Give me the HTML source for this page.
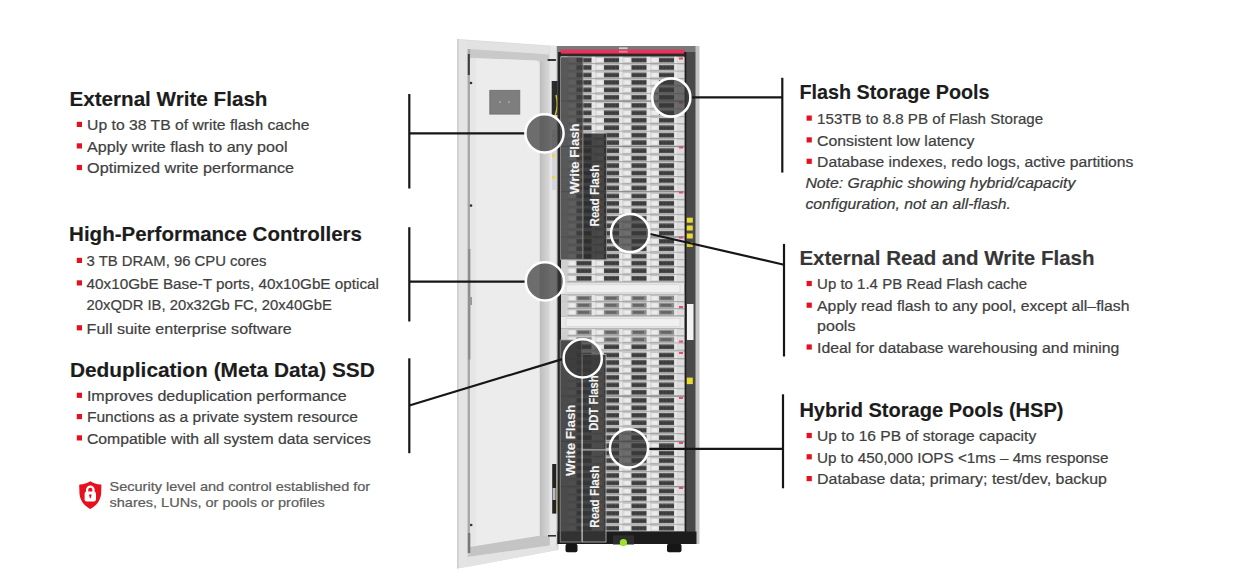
<!DOCTYPE html><html><head><meta charset="utf-8"><style>html,body{margin:0;padding:0;background:#fff;overflow:hidden;}svg{display:block;}</style></head><body>
<svg width="1249" height="580" viewBox="0 0 1249 580">
<rect width="1249" height="580" fill="#ffffff"/>
<defs><g id="rn"><rect x="561.00" y="0.00" width="123.30" height="7.50" fill="#c2c2c2"/><rect x="561.00" y="6.60" width="123.30" height="0.90" fill="#a2a2a2"/><rect x="561.00" y="0.00" width="6.50" height="7.50" fill="#cfcfcf"/><rect x="567.50" y="1.30" width="9.00" height="4.60" fill="#dcdcdc"/><rect x="569.50" y="1.70" width="5.50" height="3.80" fill="#ececec"/><rect x="576.50" y="1.30" width="15.20" height="4.60" fill="#4a4a4a"/><rect x="577.40" y="2.30" width="2.80" height="2.60" fill="#3a3a3a"/><rect x="581.00" y="2.30" width="2.80" height="2.60" fill="#3a3a3a"/><rect x="584.60" y="2.30" width="2.80" height="2.60" fill="#3a3a3a"/><rect x="588.20" y="2.30" width="2.80" height="2.60" fill="#3a3a3a"/><rect x="576.90" y="1.60" width="14.40" height="0.60" fill="#606060"/><rect x="591.70" y="0.30" width="3.30" height="6.30" fill="#e6e6e6"/><rect x="595.00" y="1.30" width="9.00" height="4.60" fill="#dcdcdc"/><rect x="597.00" y="1.70" width="5.50" height="3.80" fill="#ececec"/><rect x="604.00" y="1.30" width="15.20" height="4.60" fill="#4a4a4a"/><rect x="604.90" y="2.30" width="2.80" height="2.60" fill="#3a3a3a"/><rect x="608.50" y="2.30" width="2.80" height="2.60" fill="#3a3a3a"/><rect x="612.10" y="2.30" width="2.80" height="2.60" fill="#3a3a3a"/><rect x="615.70" y="2.30" width="2.80" height="2.60" fill="#3a3a3a"/><rect x="604.40" y="1.60" width="14.40" height="0.60" fill="#606060"/><rect x="619.20" y="0.30" width="3.30" height="6.30" fill="#e6e6e6"/><rect x="622.50" y="1.30" width="9.00" height="4.60" fill="#dcdcdc"/><rect x="624.50" y="1.70" width="5.50" height="3.80" fill="#ececec"/><rect x="631.50" y="1.30" width="15.20" height="4.60" fill="#4a4a4a"/><rect x="632.40" y="2.30" width="2.80" height="2.60" fill="#3a3a3a"/><rect x="636.00" y="2.30" width="2.80" height="2.60" fill="#3a3a3a"/><rect x="639.60" y="2.30" width="2.80" height="2.60" fill="#3a3a3a"/><rect x="643.20" y="2.30" width="2.80" height="2.60" fill="#3a3a3a"/><rect x="631.90" y="1.60" width="14.40" height="0.60" fill="#606060"/><rect x="646.70" y="0.30" width="3.30" height="6.30" fill="#e6e6e6"/><rect x="650.00" y="1.30" width="9.00" height="4.60" fill="#dcdcdc"/><rect x="652.00" y="1.70" width="5.50" height="3.80" fill="#ececec"/><rect x="659.00" y="1.30" width="15.20" height="4.60" fill="#4a4a4a"/><rect x="659.90" y="2.30" width="2.80" height="2.60" fill="#3a3a3a"/><rect x="663.50" y="2.30" width="2.80" height="2.60" fill="#3a3a3a"/><rect x="667.10" y="2.30" width="2.80" height="2.60" fill="#3a3a3a"/><rect x="670.70" y="2.30" width="2.80" height="2.60" fill="#3a3a3a"/><rect x="659.40" y="1.60" width="14.40" height="0.60" fill="#606060"/><rect x="674.20" y="0.30" width="3.30" height="6.30" fill="#e6e6e6"/><rect x="677.50" y="0.80" width="6.70" height="5.70" fill="#dedede"/></g><g id="rb"><rect x="561.00" y="0.00" width="123.30" height="7.50" fill="#c2c2c2"/><rect x="561.00" y="6.60" width="123.30" height="0.90" fill="#a2a2a2"/><rect x="561.00" y="0.00" width="6.50" height="7.50" fill="#cfcfcf"/><rect x="567.50" y="1.30" width="9.00" height="4.60" fill="#dcdcdc"/><rect x="569.50" y="1.70" width="5.50" height="3.80" fill="#ececec"/><rect x="576.50" y="1.30" width="15.20" height="4.60" fill="#8a8a8a"/><rect x="578.00" y="2.20" width="11.00" height="2.80" fill="#666666"/><rect x="591.70" y="0.30" width="3.30" height="6.30" fill="#e6e6e6"/><rect x="595.00" y="1.30" width="9.00" height="4.60" fill="#dcdcdc"/><rect x="597.00" y="1.70" width="5.50" height="3.80" fill="#ececec"/><rect x="604.00" y="1.30" width="15.20" height="4.60" fill="#8a8a8a"/><rect x="605.50" y="2.20" width="11.00" height="2.80" fill="#666666"/><rect x="619.20" y="0.30" width="3.30" height="6.30" fill="#e6e6e6"/><rect x="622.50" y="1.30" width="9.00" height="4.60" fill="#dcdcdc"/><rect x="624.50" y="1.70" width="5.50" height="3.80" fill="#ececec"/><rect x="631.50" y="1.30" width="15.20" height="4.60" fill="#8a8a8a"/><rect x="633.00" y="2.20" width="11.00" height="2.80" fill="#666666"/><rect x="646.70" y="0.30" width="3.30" height="6.30" fill="#e6e6e6"/><rect x="650.00" y="1.30" width="9.00" height="4.60" fill="#dcdcdc"/><rect x="652.00" y="1.70" width="5.50" height="3.80" fill="#ececec"/><rect x="659.00" y="1.30" width="15.20" height="4.60" fill="#8a8a8a"/><rect x="660.50" y="2.20" width="11.00" height="2.80" fill="#666666"/><rect x="674.20" y="0.30" width="3.30" height="6.30" fill="#e6e6e6"/><rect x="677.50" y="0.80" width="6.70" height="5.70" fill="#dedede"/></g><linearGradient id="gr1" x1="0" x2="1" y1="0" y2="0"><stop offset="0" stop-color="#bdbdbd"/><stop offset="1" stop-color="#dadada"/></linearGradient><filter id="bl" x="-5%" y="-5%" width="110%" height="110%"><feGaussianBlur stdDeviation="0.45"/></filter></defs>
<g filter="url(#bl)"><polygon points="457,39 557.5,46 557.5,550 457,568.5" fill="#dadada"/><polygon points="458.5,40 467.5,40.6 467.5,567 458.5,568" fill="#e4e4e4"/><polygon points="457,39 458.6,39.1 458.6,568.2 457,568.5" fill="#cfcfcf"/><polygon points="467.5,40.6 549,46 549,54.5 467.5,49.2" fill="#e2e2e2"/><polygon points="469,49 549,54.5 549,61 469,58" fill="#c9c9c9"/><polygon points="467.6,49 470.2,49.2 470.2,553 467.6,553.5" fill="#a8a8a8"/><polygon points="470.2,58 536,60.4 539.8,62.5 539.8,535.7 470.2,547.1" fill="#ececec"/><polygon points="470.2,58 476,58.2 476,546.2 470.2,547.1" fill="#e6e6e6"/><polygon points="539.8,60.4 549.8,61 549.8,545.5 539.8,545.5" fill="url(#gr1)"/><polygon points="549.8,46 557.5,46 557.5,550 549.8,550.4" fill="#e6e6e6"/><polygon points="556,46 558.5,46 558.5,550 556,550" fill="#cfcfcf"/><polygon points="470.2,547.1 539.8,535.7 549.8,535.7 549.8,545.5 467.6,557" fill="#c4c4c4"/><polygon points="467.6,557 549.8,545.5 557.5,545.5 557.5,550 467.5,567" fill="#e3e3e3"/><rect x="467.8" y="54" width="2" height="21" fill="#3a3a3a"/><circle cx="471" cy="83" r="1.3" fill="#333"/><circle cx="471" cy="205.6" r="1.3" fill="#333"/><circle cx="471.2" cy="525" r="1.3" fill="#333"/><rect x="467.9" y="533" width="2.4" height="20" fill="#777"/><rect x="489.8" y="90.3" width="30" height="23.8" fill="#7e7e7e" stroke="#6c6c6c" stroke-width="0.8"/><circle cx="500" cy="102" r="1" fill="#aaa"/><circle cx="509" cy="102" r="1" fill="#aaa"/><rect x="547.6" y="59" width="8.3" height="2" fill="#333"/><rect x="548" y="535" width="8" height="1.6" fill="#333"/><rect x="468.2" y="249" width="2.2" height="110.5" fill="#8c8c8c"/><rect x="469.5" y="297" width="2.5" height="8" fill="#9a9a9a"/><rect x="551.7" y="81" width="6" height="34" fill="#2a2a2a"/><path d="M556 95 Q559 105 555 116" stroke="#d8c23a" stroke-width="1.4" fill="none"/><rect x="552" y="130" width="4" height="60" fill="#d5d5de"/><circle cx="553.5" cy="155.7" r="1.7" fill="#e8d840"/><circle cx="553.5" cy="177.2" r="1.7" fill="#e8d840"/><circle cx="553.5" cy="136" r="1.2" fill="#d8d060"/><rect x="552.2" y="464" width="4.1" height="49.6" fill="#222"/><rect x="552.6" y="488" width="3" height="12" fill="#b7b7d0"/><path d="M557 484 L557 512" stroke="#caa640" stroke-width="0.8"/><rect x="557.50" y="46.00" width="139.00" height="498.00" fill="#2c2c2c" /><rect x="558.00" y="46.00" width="138.00" height="6.00" fill="#7a7a7a" /><rect x="560.40" y="49.70" width="124.20" height="3.90" fill="#e8325a" /><rect x="619.00" y="47.30" width="8.60" height="1.80" fill="#c8d0c8" /><rect x="619.00" y="50.80" width="8.60" height="1.80" fill="#f27a9a" /><rect x="684.30" y="52.00" width="12.00" height="480.00" fill="#4a4a4a" /><rect x="684.30" y="52.00" width="2.00" height="480.00" fill="#1a1a1a" /><rect x="695.50" y="46.00" width="4.00" height="498.00" fill="#c4c4c4" /><rect x="686.80" y="217.70" width="6.00" height="5.00" fill="#e9d932" /><rect x="686.80" y="225.50" width="6.00" height="5.00" fill="#e9d932" /><rect x="686.80" y="233.50" width="6.00" height="5.00" fill="#e9d932" /><rect x="686.80" y="242.00" width="6.00" height="5.00" fill="#d8c830" /><rect x="687.00" y="304.00" width="6.50" height="36.00" fill="#f2f2f2" /><rect x="686.80" y="377.60" width="6.00" height="6.50" fill="#e9d932" /><rect x="561.00" y="57.00" width="123.30" height="474.50" fill="#cfcfcf" /><use href="#rn" transform="translate(0,56.50) scale(1,0.9933)"/><use href="#rn" transform="translate(0,63.95) scale(1,0.9933)"/><use href="#rn" transform="translate(0,71.40) scale(1,0.9933)"/><use href="#rn" transform="translate(0,78.85) scale(1,0.9933)"/><use href="#rn" transform="translate(0,86.30) scale(1,0.9933)"/><use href="#rn" transform="translate(0,93.75) scale(1,0.9933)"/><rect x="561.00" y="100.60" width="123.30" height="1.30" fill="#8a8a8a" /><use href="#rn" transform="translate(0,101.80) scale(1,0.9933)"/><use href="#rn" transform="translate(0,109.25) scale(1,0.9933)"/><use href="#rn" transform="translate(0,116.70) scale(1,0.9933)"/><use href="#rn" transform="translate(0,124.15) scale(1,0.9933)"/><use href="#rn" transform="translate(0,131.60) scale(1,0.9933)"/><use href="#rn" transform="translate(0,139.05) scale(1,0.9933)"/><rect x="561.00" y="145.90" width="123.30" height="1.30" fill="#8a8a8a" /><use href="#rn" transform="translate(0,147.10) scale(1,0.9933)"/><use href="#rn" transform="translate(0,154.55) scale(1,0.9933)"/><use href="#rn" transform="translate(0,162.00) scale(1,0.9933)"/><use href="#rn" transform="translate(0,169.45) scale(1,0.9933)"/><use href="#rn" transform="translate(0,176.90) scale(1,0.9933)"/><use href="#rn" transform="translate(0,184.35) scale(1,0.9933)"/><rect x="561.00" y="191.20" width="123.30" height="1.30" fill="#8a8a8a" /><use href="#rn" transform="translate(0,192.40) scale(1,0.9933)"/><use href="#rn" transform="translate(0,199.85) scale(1,0.9933)"/><use href="#rn" transform="translate(0,207.30) scale(1,0.9933)"/><use href="#rn" transform="translate(0,214.75) scale(1,0.9933)"/><use href="#rn" transform="translate(0,222.20) scale(1,0.9933)"/><use href="#rn" transform="translate(0,229.65) scale(1,0.9933)"/><rect x="561.00" y="236.50" width="123.30" height="1.30" fill="#8a8a8a" /><use href="#rn" transform="translate(0,237.70) scale(1,0.9933)"/><use href="#rn" transform="translate(0,245.15) scale(1,0.9933)"/><use href="#rn" transform="translate(0,252.60) scale(1,0.9933)"/><use href="#rn" transform="translate(0,259.50) scale(1,1.0133)"/><use href="#rn" transform="translate(0,267.10) scale(1,1.0133)"/><use href="#rn" transform="translate(0,274.70) scale(1,1.0133)"/><rect x="561.00" y="282.30" width="123.30" height="12.50" fill="#e9e9e9" /><rect x="561.00" y="282.30" width="123.30" height="0.80" fill="#b8b8b8" /><rect x="561.00" y="293.80" width="123.30" height="1.00" fill="#b0b0b0" /><rect x="566.00" y="284.80" width="114.00" height="7.50" fill="#f0f0f0" stroke="#d0d0d0" stroke-width="0.6"/><use href="#rb" transform="translate(0,294.80) scale(1,0.9467)"/><use href="#rb" transform="translate(0,301.90) scale(1,0.9467)"/><use href="#rb" transform="translate(0,309.00) scale(1,0.9467)"/><rect x="561.00" y="316.10" width="123.30" height="12.80" fill="#e9e9e9" /><rect x="561.00" y="316.10" width="123.30" height="0.80" fill="#b8b8b8" /><rect x="561.00" y="327.90" width="123.30" height="1.00" fill="#b0b0b0" /><rect x="566.00" y="318.60" width="114.00" height="7.80" fill="#f0f0f0" stroke="#d0d0d0" stroke-width="0.6"/><use href="#rb" transform="translate(0,328.90) scale(1,0.9600)"/><use href="#rb" transform="translate(0,336.10) scale(1,0.9600)"/><use href="#rn" transform="translate(0,343.30) scale(1,0.9600)"/><use href="#rn" transform="translate(0,351.50) scale(1,0.9933)"/><use href="#rn" transform="translate(0,358.95) scale(1,0.9933)"/><use href="#rn" transform="translate(0,366.40) scale(1,0.9933)"/><use href="#rn" transform="translate(0,373.85) scale(1,0.9933)"/><use href="#rn" transform="translate(0,381.30) scale(1,0.9933)"/><use href="#rn" transform="translate(0,388.75) scale(1,0.9933)"/><rect x="561.00" y="395.60" width="123.30" height="1.30" fill="#8a8a8a" /><use href="#rn" transform="translate(0,396.80) scale(1,0.9933)"/><use href="#rn" transform="translate(0,404.25) scale(1,0.9933)"/><use href="#rn" transform="translate(0,411.70) scale(1,0.9933)"/><use href="#rn" transform="translate(0,419.15) scale(1,0.9933)"/><use href="#rn" transform="translate(0,426.60) scale(1,0.9933)"/><use href="#rn" transform="translate(0,434.05) scale(1,0.9933)"/><rect x="561.00" y="440.90" width="123.30" height="1.30" fill="#8a8a8a" /><use href="#rn" transform="translate(0,442.10) scale(1,0.9933)"/><use href="#rn" transform="translate(0,449.55) scale(1,0.9933)"/><use href="#rn" transform="translate(0,457.00) scale(1,0.9933)"/><use href="#rn" transform="translate(0,464.45) scale(1,0.9933)"/><use href="#rn" transform="translate(0,471.90) scale(1,0.9933)"/><use href="#rn" transform="translate(0,479.35) scale(1,0.9933)"/><rect x="561.00" y="486.20" width="123.30" height="1.30" fill="#8a8a8a" /><use href="#rn" transform="translate(0,487.40) scale(1,0.9933)"/><use href="#rn" transform="translate(0,494.85) scale(1,0.9933)"/><use href="#rn" transform="translate(0,502.30) scale(1,0.9933)"/><use href="#rn" transform="translate(0,509.75) scale(1,0.9933)"/><use href="#rn" transform="translate(0,517.20) scale(1,0.9933)"/><use href="#rn" transform="translate(0,524.65) scale(1,0.9933)"/><rect x="561.00" y="531.50" width="123.30" height="1.30" fill="#8a8a8a" /><rect x="679.00" y="57.50" width="4.00" height="2.00" fill="#e0506a" /><rect x="679.00" y="101.50" width="4.00" height="2.00" fill="#e0506a" /><rect x="679.00" y="146.50" width="4.00" height="2.00" fill="#e0506a" /><rect x="679.00" y="191.50" width="4.00" height="2.00" fill="#e0506a" /><rect x="679.00" y="236.50" width="4.00" height="2.00" fill="#e0506a" /><rect x="679.00" y="306.00" width="4.00" height="2.00" fill="#e0506a" /><rect x="679.00" y="340.50" width="4.00" height="2.00" fill="#e0506a" /><rect x="679.00" y="352.00" width="4.00" height="2.00" fill="#e0506a" /><rect x="679.00" y="397.00" width="4.00" height="2.00" fill="#e0506a" /><rect x="679.00" y="442.00" width="4.00" height="2.00" fill="#e0506a" /><rect x="679.00" y="487.00" width="4.00" height="2.00" fill="#e0506a" /><rect x="558.50" y="52.00" width="2.20" height="480.00" fill="#222" /><rect x="557.50" y="531.50" width="139.00" height="12.50" fill="#1e1e1e" /><rect x="613.00" y="535.50" width="21.00" height="9.00" fill="#2e2e2e" /><circle cx="623.4" cy="542.6" r="3.6" fill="#9be22a"/><rect x="565.50" y="543.80" width="12.00" height="8.40" fill="#151515" rx="2"/><rect x="667.00" y="543.80" width="14.50" height="8.40" fill="#151515" rx="2"/><rect x="560.6" y="57" width="22.4" height="202.5" fill="#3e3e3e" fill-opacity="0.82" stroke="#9a9a9a" stroke-width="0.8"/><rect x="583" y="133.5" width="23.5" height="126" fill="#2c2c2c" fill-opacity="0.86" stroke="#8a8a8a" stroke-width="0.8"/><rect x="560.2" y="340" width="21.2" height="202" fill="#363636" fill-opacity="0.86" stroke="#9a9a9a" stroke-width="0.8"/><rect x="582.5" y="354.6" width="23.5" height="95.4" fill="#333333" fill-opacity="0.86" stroke="#bdbdbd" stroke-width="0.8"/><rect x="582.5" y="450" width="23.5" height="92" fill="#333333" fill-opacity="0.86" stroke="#bdbdbd" stroke-width="0.8"/></g>
<g><text transform="translate(578.5,194.0) rotate(-90)" x="0" y="0" font-family='"Liberation Sans", sans-serif' font-size="13.2" font-weight="bold" fill="#f4f4f4" stroke="#f4f4f4" stroke-width="0.1" textLength="70.6" lengthAdjust="spacingAndGlyphs">Write Flash</text><text transform="translate(598.7,226.4) rotate(-90)" x="0" y="0" font-family='"Liberation Sans", sans-serif' font-size="13.2" font-weight="bold" fill="#f4f4f4" stroke="#f4f4f4" stroke-width="0.1" textLength="61.6" lengthAdjust="spacingAndGlyphs">Read Flash</text><text transform="translate(574.6,476.0) rotate(-90)" x="0" y="0" font-family='"Liberation Sans", sans-serif' font-size="13.2" font-weight="bold" fill="#f4f4f4" stroke="#f4f4f4" stroke-width="0.1" textLength="71.5" lengthAdjust="spacingAndGlyphs">Write Flash</text><text transform="translate(598.4,430.8) rotate(-90)" x="0" y="0" font-family='"Liberation Sans", sans-serif' font-size="13.2" font-weight="bold" fill="#f4f4f4" stroke="#f4f4f4" stroke-width="0.1" textLength="55.5" lengthAdjust="spacingAndGlyphs">DDT Flash</text><text transform="translate(598.9,527.8) rotate(-90)" x="0" y="0" font-family='"Liberation Sans", sans-serif' font-size="13.2" font-weight="bold" fill="#f4f4f4" stroke="#f4f4f4" stroke-width="0.1" textLength="62.3" lengthAdjust="spacingAndGlyphs">Read Flash</text></g>
<g><path d="M409.3,94 L409.3,188.5" stroke="#161616" stroke-width="2.2" fill="none"/><path d="M409.3,133.4 L526,133.4" stroke="#161616" stroke-width="2.2" fill="none"/><path d="M409.3,227.2 L409.3,321.5" stroke="#161616" stroke-width="2.2" fill="none"/><path d="M409.3,281.6 L526,281.6" stroke="#161616" stroke-width="2.2" fill="none"/><path d="M409.3,358.3 L409.3,453.2" stroke="#161616" stroke-width="2.2" fill="none"/><path d="M409.3,405.5 L564,358.6" stroke="#161616" stroke-width="2.2" fill="none"/><path d="M782.3,77.8 L782.3,172.6" stroke="#161616" stroke-width="2.2" fill="none"/><path d="M689,97.3 L782.3,97.3" stroke="#161616" stroke-width="2.2" fill="none"/><path d="M784,243.9 L784,356.5" stroke="#161616" stroke-width="2.2" fill="none"/><path d="M648,233.5 L784,264.7" stroke="#161616" stroke-width="2.2" fill="none"/><path d="M783,394.3 L783,488.3" stroke="#161616" stroke-width="2.2" fill="none"/><path d="M647,448.8 L783,448.8" stroke="#161616" stroke-width="2.2" fill="none"/></g>
<g><circle cx="544.5" cy="133.3" r="19.1" fill="#383838" fill-opacity="0.70" stroke="#ffffff" stroke-width="2.5"/><circle cx="544.9" cy="281.4" r="19.1" fill="#383838" fill-opacity="0.70" stroke="#ffffff" stroke-width="2.5"/><circle cx="582.7" cy="358.4" r="19.1" fill="#383838" fill-opacity="0.70" stroke="#ffffff" stroke-width="2.5"/><circle cx="671.3" cy="97.5" r="19.1" fill="#383838" fill-opacity="0.70" stroke="#ffffff" stroke-width="2.5"/><circle cx="630.2" cy="233.0" r="19.1" fill="#383838" fill-opacity="0.70" stroke="#ffffff" stroke-width="2.5"/><circle cx="629.0" cy="448.4" r="19.1" fill="#383838" fill-opacity="0.70" stroke="#ffffff" stroke-width="2.5"/></g>
<g><path d="M90.3,481.2 C87.5,483 83.5,484.3 79.8,484.6 Q79.2,484.7 79.2,485.4 L79.5,494 C80.2,501 84.5,506 90.3,508.9 C96.1,506 100.4,501 101.1,494 L101.4,485.4 Q101.4,484.7 100.8,484.6 C97.1,484.3 93.1,483 90.3,481.2 Z" fill="#e8101e"/><rect x="84.6" y="491.6" width="11.4" height="9.8" rx="2.2" fill="#ffffff"/><path d="M87.1,492.4 L87.1,489.8 A3.2,3.2 0 0 1 93.5,489.8 L93.5,492.4" stroke="#ffffff" stroke-width="2.3" fill="none"/><circle cx="90.3" cy="495.4" r="1.2" fill="#e8101e"/><rect x="89.7" y="495.6" width="1.2" height="2.6" fill="#e8101e"/></g>
<rect x="76.8" y="121.8" width="5.2" height="5.2" fill="#e5101d"/>
<rect x="76.8" y="143.29999999999998" width="5.2" height="5.2" fill="#e5101d"/>
<rect x="76.8" y="164.89999999999998" width="5.2" height="5.2" fill="#e5101d"/>
<rect x="76.8" y="257.8" width="5.2" height="5.2" fill="#e5101d"/>
<rect x="76.8" y="280.3" width="5.2" height="5.2" fill="#e5101d"/>
<rect x="76.8" y="325.2" width="5.2" height="5.2" fill="#e5101d"/>
<rect x="76.8" y="392.7" width="5.2" height="5.2" fill="#e5101d"/>
<rect x="76.8" y="414.0" width="5.2" height="5.2" fill="#e5101d"/>
<rect x="76.8" y="435.3" width="5.2" height="5.2" fill="#e5101d"/>
<rect x="806.6" y="115.5" width="5.2" height="5.2" fill="#e5101d"/>
<rect x="806.6" y="137.29999999999998" width="5.2" height="5.2" fill="#e5101d"/>
<rect x="806.6" y="158.7" width="5.2" height="5.2" fill="#e5101d"/>
<rect x="806.6" y="280.9" width="5.2" height="5.2" fill="#e5101d"/>
<rect x="806.6" y="302.59999999999997" width="5.2" height="5.2" fill="#e5101d"/>
<rect x="806.6" y="344.4" width="5.2" height="5.2" fill="#e5101d"/>
<rect x="806.6" y="432.9" width="5.2" height="5.2" fill="#e5101d"/>
<rect x="806.6" y="454.2" width="5.2" height="5.2" fill="#e5101d"/>
<rect x="806.6" y="476.0" width="5.2" height="5.2" fill="#e5101d"/>
<text x="69.4" y="105.6" font-family='"Liberation Sans", sans-serif' font-size="21.0" font-weight="bold" font-style="normal" fill="#1c1c1c" stroke="#1c1c1c" stroke-width="0.15" textLength="198.1" lengthAdjust="spacingAndGlyphs">External Write Flash</text>
<text x="87.1" y="130.1" font-family='"Liberation Sans", sans-serif' font-size="15.2" font-weight="normal" font-style="normal" fill="#3f3f3f" stroke="#3f3f3f" stroke-width="0.22" textLength="222.3" lengthAdjust="spacingAndGlyphs">Up to 38 TB of write flash cache</text>
<text x="87.1" y="151.6" font-family='"Liberation Sans", sans-serif' font-size="15.2" font-weight="normal" font-style="normal" fill="#3f3f3f" stroke="#3f3f3f" stroke-width="0.22" textLength="200.4" lengthAdjust="spacingAndGlyphs">Apply write flash to any pool</text>
<text x="87.1" y="173.2" font-family='"Liberation Sans", sans-serif' font-size="15.2" font-weight="normal" font-style="normal" fill="#3f3f3f" stroke="#3f3f3f" stroke-width="0.22" textLength="206.9" lengthAdjust="spacingAndGlyphs">Optimized write performance</text>
<text x="69.1" y="241.1" font-family='"Liberation Sans", sans-serif' font-size="21.0" font-weight="bold" font-style="normal" fill="#1c1c1c" stroke="#1c1c1c" stroke-width="0.15" textLength="292.9" lengthAdjust="spacingAndGlyphs">High-Performance Controllers</text>
<text x="86.6" y="266.1" font-family='"Liberation Sans", sans-serif' font-size="15.2" font-weight="normal" font-style="normal" fill="#3f3f3f" stroke="#3f3f3f" stroke-width="0.22" textLength="179.9" lengthAdjust="spacingAndGlyphs">3 TB DRAM, 96 CPU cores</text>
<text x="86.6" y="288.6" font-family='"Liberation Sans", sans-serif' font-size="15.2" font-weight="normal" font-style="normal" fill="#3f3f3f" stroke="#3f3f3f" stroke-width="0.22" textLength="292.3" lengthAdjust="spacingAndGlyphs">40x10GbE Base-T ports, 40x10GbE optical</text>
<text x="86.6" y="309.5" font-family='"Liberation Sans", sans-serif' font-size="15.2" font-weight="normal" font-style="normal" fill="#3f3f3f" stroke="#3f3f3f" stroke-width="0.22" textLength="245.2" lengthAdjust="spacingAndGlyphs">20xQDR IB, 20x32Gb FC, 20x40GbE</text>
<text x="86.6" y="333.5" font-family='"Liberation Sans", sans-serif' font-size="15.2" font-weight="normal" font-style="normal" fill="#3f3f3f" stroke="#3f3f3f" stroke-width="0.22" textLength="205.2" lengthAdjust="spacingAndGlyphs">Full suite enterprise software</text>
<text x="69.9" y="377.0" font-family='"Liberation Sans", sans-serif' font-size="21.0" font-weight="bold" font-style="normal" fill="#1c1c1c" stroke="#1c1c1c" stroke-width="0.15" textLength="304.9" lengthAdjust="spacingAndGlyphs">Deduplication (Meta Data) SSD</text>
<text x="86.9" y="401.0" font-family='"Liberation Sans", sans-serif' font-size="15.2" font-weight="normal" font-style="normal" fill="#3f3f3f" stroke="#3f3f3f" stroke-width="0.22" textLength="259.9" lengthAdjust="spacingAndGlyphs">Improves deduplication performance</text>
<text x="86.9" y="422.3" font-family='"Liberation Sans", sans-serif' font-size="15.2" font-weight="normal" font-style="normal" fill="#3f3f3f" stroke="#3f3f3f" stroke-width="0.22" textLength="271.0" lengthAdjust="spacingAndGlyphs">Functions as a private system resource</text>
<text x="86.9" y="443.6" font-family='"Liberation Sans", sans-serif' font-size="15.2" font-weight="normal" font-style="normal" fill="#3f3f3f" stroke="#3f3f3f" stroke-width="0.22" textLength="283.9" lengthAdjust="spacingAndGlyphs">Compatible with all system data services</text>
<text x="109.5" y="491.3" font-family='"Liberation Sans", sans-serif' font-size="12.8" font-weight="normal" font-style="normal" fill="#5c5c5c" stroke="#5c5c5c" stroke-width="0.22" textLength="260.7" lengthAdjust="spacingAndGlyphs">Security level and control established for</text>
<text x="109.5" y="506.8" font-family='"Liberation Sans", sans-serif' font-size="12.8" font-weight="normal" font-style="normal" fill="#5c5c5c" stroke="#5c5c5c" stroke-width="0.22" textLength="215.3" lengthAdjust="spacingAndGlyphs">shares, LUNs, or  pools or profiles</text>
<text x="799.4" y="99.4" font-family='"Liberation Sans", sans-serif' font-size="21.0" font-weight="bold" font-style="normal" fill="#1c1c1c" stroke="#1c1c1c" stroke-width="0.15" textLength="190.2" lengthAdjust="spacingAndGlyphs">Flash Storage Pools</text>
<text x="817.1" y="123.8" font-family='"Liberation Sans", sans-serif' font-size="15.2" font-weight="normal" font-style="normal" fill="#3f3f3f" stroke="#3f3f3f" stroke-width="0.22" textLength="226.1" lengthAdjust="spacingAndGlyphs">153TB to 8.8 PB of Flash Storage</text>
<text x="817.1" y="145.6" font-family='"Liberation Sans", sans-serif' font-size="15.2" font-weight="normal" font-style="normal" fill="#3f3f3f" stroke="#3f3f3f" stroke-width="0.22" textLength="157.4" lengthAdjust="spacingAndGlyphs">Consistent low latency</text>
<text x="817.1" y="167.0" font-family='"Liberation Sans", sans-serif' font-size="15.2" font-weight="normal" font-style="normal" fill="#3f3f3f" stroke="#3f3f3f" stroke-width="0.22" textLength="316.3" lengthAdjust="spacingAndGlyphs">Database indexes, redo logs, active partitions</text>
<text x="805.4" y="188.4" font-family='"Liberation Sans", sans-serif' font-size="15.2" font-weight="normal" font-style="italic" fill="#3a3a3a" stroke="#3a3a3a" stroke-width="0.22" textLength="270.0" lengthAdjust="spacingAndGlyphs">Note: Graphic showing hybrid/capacity</text>
<text x="805.4" y="208.8" font-family='"Liberation Sans", sans-serif' font-size="15.2" font-weight="normal" font-style="italic" fill="#3a3a3a" stroke="#3a3a3a" stroke-width="0.22" textLength="205.6" lengthAdjust="spacingAndGlyphs">configuration, not an all-flash.</text>
<text x="799.4" y="265.0" font-family='"Liberation Sans", sans-serif' font-size="21.0" font-weight="bold" font-style="normal" fill="#363636" stroke="#363636" stroke-width="0.15" textLength="295.2" lengthAdjust="spacingAndGlyphs">External Read and Write Flash</text>
<text x="817.1" y="289.2" font-family='"Liberation Sans", sans-serif' font-size="15.2" font-weight="normal" font-style="normal" fill="#3f3f3f" stroke="#3f3f3f" stroke-width="0.22" textLength="210.1" lengthAdjust="spacingAndGlyphs">Up to 1.4 PB Read Flash cache</text>
<text x="817.1" y="310.9" font-family='"Liberation Sans", sans-serif' font-size="15.2" font-weight="normal" font-style="normal" fill="#3f3f3f" stroke="#3f3f3f" stroke-width="0.22" textLength="312.4" lengthAdjust="spacingAndGlyphs">Apply read flash to any pool, except all–flash</text>
<text x="817.1" y="331.0" font-family='"Liberation Sans", sans-serif' font-size="15.2" font-weight="normal" font-style="normal" fill="#3f3f3f" stroke="#3f3f3f" stroke-width="0.22" textLength="38.3" lengthAdjust="spacingAndGlyphs">pools</text>
<text x="817.1" y="352.7" font-family='"Liberation Sans", sans-serif' font-size="15.2" font-weight="normal" font-style="normal" fill="#3f3f3f" stroke="#3f3f3f" stroke-width="0.22" textLength="302.3" lengthAdjust="spacingAndGlyphs">Ideal for database warehousing and mining</text>
<text x="799.4" y="417.3" font-family='"Liberation Sans", sans-serif' font-size="21.0" font-weight="bold" font-style="normal" fill="#1c1c1c" stroke="#1c1c1c" stroke-width="0.15" textLength="264.1" lengthAdjust="spacingAndGlyphs">Hybrid Storage Pools (HSP)</text>
<text x="817.1" y="441.2" font-family='"Liberation Sans", sans-serif' font-size="15.2" font-weight="normal" font-style="normal" fill="#3f3f3f" stroke="#3f3f3f" stroke-width="0.22" textLength="219.1" lengthAdjust="spacingAndGlyphs">Up to 16 PB of storage capacity</text>
<text x="817.1" y="462.5" font-family='"Liberation Sans", sans-serif' font-size="15.2" font-weight="normal" font-style="normal" fill="#3f3f3f" stroke="#3f3f3f" stroke-width="0.22" textLength="291.4" lengthAdjust="spacingAndGlyphs">Up to 450,000 IOPS &lt;1ms – 4ms response</text>
<text x="817.1" y="484.3" font-family='"Liberation Sans", sans-serif' font-size="15.2" font-weight="normal" font-style="normal" fill="#3f3f3f" stroke="#3f3f3f" stroke-width="0.22" textLength="289.9" lengthAdjust="spacingAndGlyphs">Database data; primary; test/dev, backup</text>
</svg></body></html>
